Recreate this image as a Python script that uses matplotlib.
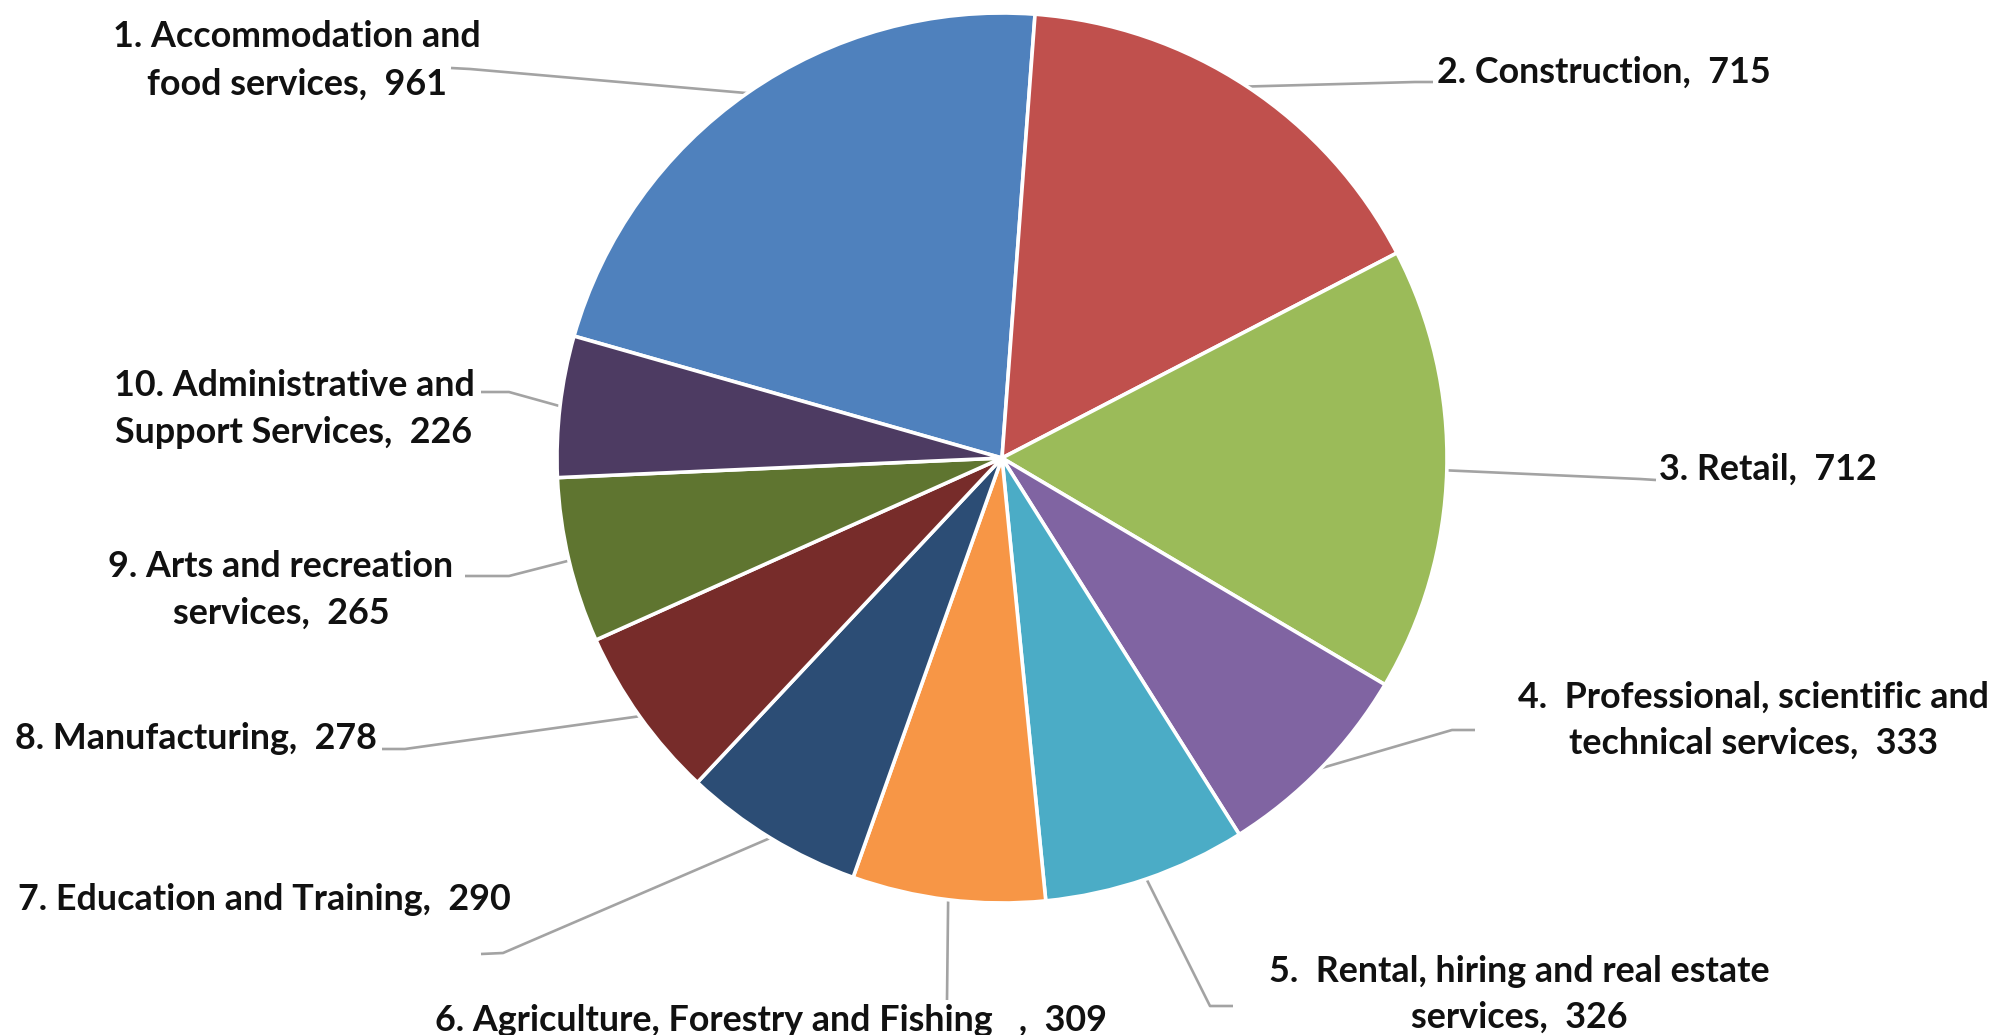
import matplotlib
matplotlib.use("Agg")
import matplotlib.pyplot as plt
import numpy as np

# Businesses by industry
categories = [
    "1. Accommodation and\nfood services",
    "2. Construction",
    "3. Retail",
    "4.  Professional, scientific and\ntechnical services",
    "5.  Rental, hiring and real estate\nservices",
    "6. Agriculture, Forestry and Fishing   ",
    "7. Education and Training",
    "8. Manufacturing",
    "9. Arts and recreation\nservices",
    "10. Administrative and\nSupport Services",
]
values = [961, 715, 712, 333, 326, 309, 290, 278, 265, 226]
colors = ["#4F81BD", "#C0504D", "#9BBB59", "#8064A2", "#4BACC6",
          "#F79646", "#2C4D75", "#772C2A", "#5F7530", "#4D3B62"]

W, H = 1997, 1035

# label layout in pixel coordinates measured from the top-left corner:
# text centre x, centre y of each line, leader elbow, leader end
label_x = [297, 1604, 1768, 1754, 1519, 771, 264, 196, 281, 294]
label_ys = [[34, 82], [70], [467], [695, 741], [969, 1015], [1018],
            [897], [736], [564, 611], [383, 430]]
leader_elbow = [(470, 69), (1415, 82), (1640, 479), (1452, 730), (1210, 1006),
                (947, 1000), (503, 953), (405, 749), (509, 576), (509, 392)]
leader_end = [(451, 68), (1433, 82), (1656, 480), (1475, 730), (1233, 1006),
              (947, 1000), (481, 954), (382, 749), (465, 576), (481, 392)]

pie_center = (1002, 458)
pie_radius = 445


def fy(y):
    return H - y


fig = plt.figure(figsize=(W / 100, H / 100), dpi=100)
ax = fig.add_axes([0, 0, 1, 1])

wedges, _ = ax.pie(values, colors=colors, startangle=164.1, counterclock=False,
                   radius=pie_radius, center=(pie_center[0], fy(pie_center[1])),
                   wedgeprops=dict(edgecolor="white", linewidth=2.6))
for w in wedges:
    w.set_zorder(3)

ax.set_xlim(0, W)
ax.set_ylim(0, H)
ax.set_aspect("equal")
ax.axis("off")

font = dict(family=["Lato", "DejaVu Sans"], weight="bold", size=25.8, color="#111111")

for i, w in enumerate(wedges):
    mid = np.deg2rad((w.theta1 + w.theta2) / 2)
    ex = w.center[0] + w.r * np.cos(mid)
    ey = w.center[1] + w.r * np.sin(mid)
    ebx, eby = leader_elbow[i]
    enx, eny = leader_end[i]
    ax.plot([ex, ebx, enx], [ey, fy(eby), fy(eny)], color="#A3A3A3",
            linewidth=1.9, zorder=2, solid_capstyle="butt")

    text = f"{categories[i]},  {values[i]}"
    lines = text.split("\n")
    for line, yc in zip(lines, label_ys[i]):
        ax.text(label_x[i], fy(yc + 13), line, ha="center", va="baseline", **font)

fig.savefig("out.png", dpi=100, facecolor="white")
